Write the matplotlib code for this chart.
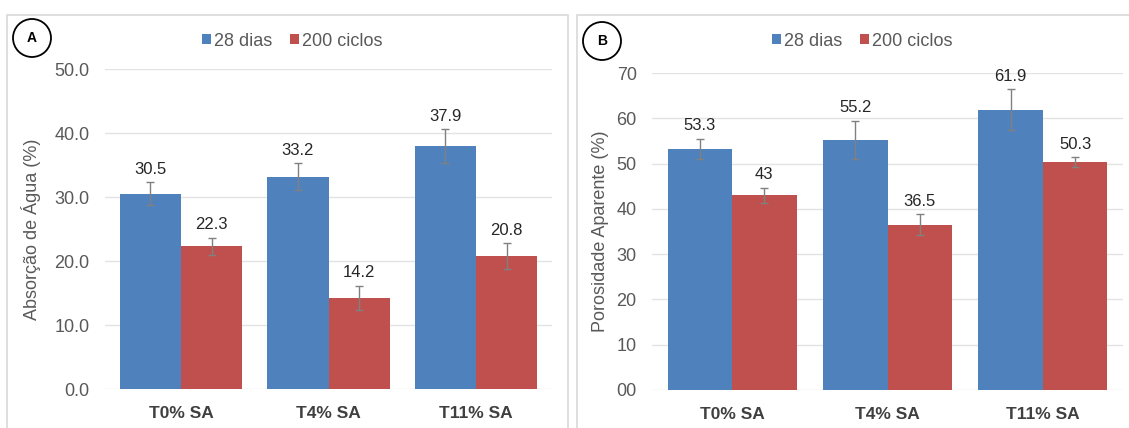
import numpy as np
import matplotlib.pyplot as plt
from matplotlib.patches import Rectangle, Ellipse
from matplotlib.ticker import FuncFormatter

plt.rcParams['font.family'] = ['Liberation Sans', 'DejaVu Sans']

# --- data ---
categories = ['T0% SA', 'T4% SA', 'T11% SA']
series = ['28 dias', '200 ciclos']

absorcao_28 = [30.5, 33.2, 37.9]
absorcao_200 = [22.3, 14.2, 20.8]
absorcao_28_err = [1.8, 2.1, 2.65]
absorcao_200_err = [1.3, 1.9, 2.0]

porosidade_28 = [53.3, 55.2, 61.9]
porosidade_200 = [43, 36.5, 50.3]
porosidade_28_err = [2.2, 4.2, 4.5]
porosidade_200_err = [1.7, 2.35, 1.1]

blue = '#4F81BD'
red = '#C0504D'
W, H = 1129, 428

fig = plt.figure(figsize=(W / 100, H / 100), dpi=100)

# panel frames
fig.add_artist(Rectangle((7 / W, -0.05), 561 / W, 1.05 - 15 / H, transform=fig.transFigure,
                         fill=False, ec='#D9D9D9', lw=1.2))
fig.add_artist(Rectangle((577 / W, -0.05), 560 / W, 1.05 - 15 / H, transform=fig.transFigure,
                         fill=False, ec='#D9D9D9', lw=1.2))

axA = fig.add_axes([105 / W, (H - 389) / H, 447 / W, 320 / H])
axB = fig.add_axes([652 / W, (H - 390) / H, 471 / W, 317 / H])


def draw(ax, v1, v2, e1, e2, ymax, step, fmt, ylabel, label_fmt):
    x = np.arange(len(categories))
    w = 0.415
    ekw = dict(ecolor='#808080', elinewidth=1, capsize=3, capthick=1)
    b1 = ax.bar(x - w / 2, v1, w, color=blue, yerr=e1, error_kw=ekw, zorder=2)
    b2 = ax.bar(x + w / 2, v2, w, color=red, yerr=e2, error_kw=ekw, zorder=2)
    for xs, vals, errs in [(x - w / 2, v1, e1), (x + w / 2, v2, e2)]:
        for xi, v, e in zip(xs, vals, errs):
            ax.annotate(label_fmt(v), (xi, v + e), xytext=(0, 4), textcoords='offset points',
                        ha='center', va='bottom', fontsize=12, color='#262626')
    ax.set_xlim(-0.515, 2.515)
    ax.set_ylim(0, ymax)
    ax.set_yticks(np.arange(0, ymax + 0.01, step))
    ax.yaxis.set_major_formatter(FuncFormatter(fmt))
    ax.set_xticks(x)
    ax.set_xticklabels(categories, fontweight='bold', fontsize=12.5, color='#404040')
    ax.tick_params(axis='y', length=0, pad=11, labelsize=13, labelcolor='#595959')
    ax.tick_params(axis='x', length=0, pad=12)
    ax.grid(axis='y', color='#E3E3E3', lw=1, zorder=0)
    for s in ax.spines.values():
        s.set_visible(False)
    ax.set_ylabel(ylabel, fontsize=13, color='#595959', labelpad=4)
    return b1, b2


bA = draw(axA, absorcao_28, absorcao_200, absorcao_28_err, absorcao_200_err, 50, 10,
          lambda v, p: f'{v:.1f}', 'Absorção de Água (%)', lambda v: f'{v:.1f}')
bB = draw(axB, porosidade_28, porosidade_200, porosidade_28_err, porosidade_200_err, 70, 10,
          lambda v, p: '00' if v == 0 else f'{v:.0f}', 'Porosidade Aparente (%)', lambda v: f'{v:g}')

axA.yaxis.set_label_coords(-0.143, 0.5)
axB.yaxis.set_label_coords(-0.092, 0.5)

for ax, b, cx in [(axA, bA, 292 / W), (axB, bB, 862 / W)]:
    ax.legend(b, series, loc='center', bbox_to_anchor=(cx, 1 - 41 / H), bbox_transform=fig.transFigure,
              ncol=2, frameon=False, handlelength=0.5, handleheight=0.5, handletextpad=0.15,
              columnspacing=1.0, fontsize=13, labelcolor='#595959', borderpad=0)

# panel letters
for lx, ly, letter in [(32, 38, 'A'), (602, 41, 'B')]:
    fig.add_artist(Ellipse((lx / W, 1 - ly / H), 38 / W, 38 / H, transform=fig.transFigure,
                           fill=False, ec='black', lw=1.3))
    fig.text(lx / W, 1 - ly / H, letter, ha='center', va='center', fontsize=10, fontweight='bold')

fig.savefig('out.png', dpi=100)
